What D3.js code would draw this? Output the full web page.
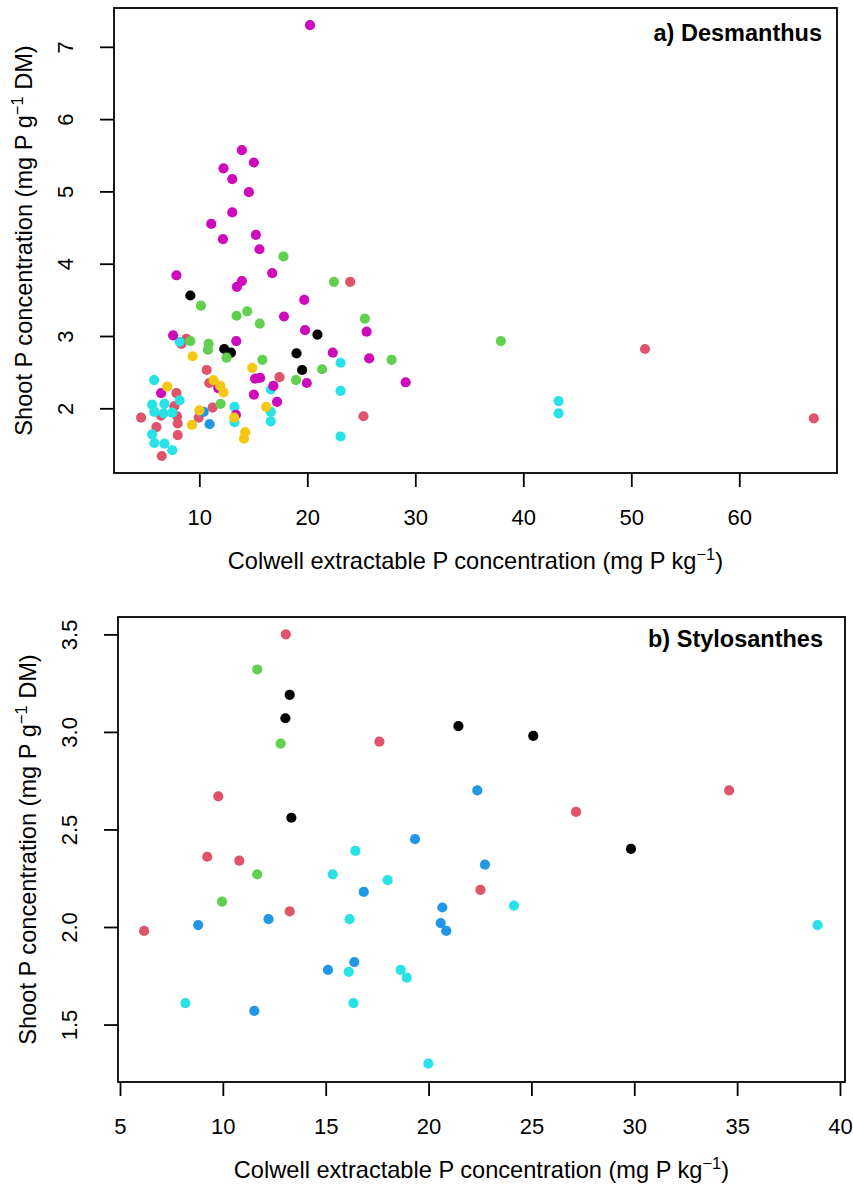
<!DOCTYPE html>
<html>
<head>
<meta charset="utf-8">
<script src="https://cdn.jsdelivr.net/npm/d3@7/dist/d3.min.js"></script>
<style>
  html, body { margin: 0; padding: 0; background: #fff; }
  svg text { font-family: "Liberation Sans", Arial, Helvetica, sans-serif; fill: #000; }
</style>
</head>
<body>
<svg id="chart" width="853" height="1186"></svg>
<script>
// Colour of each soil group (R 4.x default palette order)
const groupColors = ["#000000", "#DF536B", "#61D04F", "#2297E6", "#28E2E5", "#CD0BBC", "#F5C710"];

// a) Desmanthus: [Colwell P (mg/kg), shoot P (mg/g DM)] per group
const desBlack = [[9.17,3.56],[12.31,2.82],[12.93,2.77],[19.0,2.76],[19.52,2.53],[20.94,3.02]];
const desRed = [[23.97,3.75],[51.27,2.82],[25.2,1.89],[66.9,1.86],[17.42,2.43],[8.8,2.96],[8.34,2.89],
  [10.68,2.53],[10.92,2.35],[7.88,2.21],[7.69,2.03],[6.46,1.90],[7.94,1.89],[8.0,1.79],[4.61,1.87],
  [6.03,1.74],[8.0,1.63],[6.52,1.34],[11.23,2.01],[9.94,1.87]];
const desGreen = [[17.79,4.10],[22.47,3.75],[25.33,3.24],[37.92,2.93],[27.8,2.67],[21.37,2.54],[18.96,2.39],
  [10.15,3.42],[13.45,3.28],[14.43,3.34],[15.6,3.17],[9.17,2.93],[10.86,2.89],[10.8,2.81],[12.52,2.70],
  [15.84,2.67],[11.97,2.06]];
const desBlue = [[10.4,1.95],[10.95,1.78]];
const desCyan = [[23.08,2.63],[23.08,2.24],[43.27,2.10],[43.27,1.93],[23.08,1.61],[8.18,2.92],[16.62,2.26],
  [5.82,2.39],[8.18,2.11],[5.63,2.05],[6.77,2.06],[5.84,1.95],[6.70,1.93],[7.5,1.94],[5.63,1.64],
  [5.84,1.52],[6.77,1.51],[7.5,1.42],[13.26,2.02],[13.26,1.81],[16.62,1.95],[16.62,1.82]];
const desMagenta = [[20.25,7.30],[13.94,5.57],[15.05,5.40],[12.24,5.32],[13.05,5.17],[14.59,4.99],[13.05,4.71],
  [11.11,4.55],[12.19,4.34],[15.24,4.40],[15.57,4.20],[16.75,3.87],[7.88,3.84],[13.94,3.76],[13.48,3.68],
  [19.72,3.50],[17.84,3.27],[19.79,3.08],[25.49,3.06],[22.36,2.77],[25.73,2.69],[19.95,2.35],[29.11,2.36],
  [17.2,2.09],[7.57,3.01],[13.42,2.93],[15.17,2.41],[15.63,2.42],[16.86,2.31],[15.05,2.19],[11.75,2.28],
  [6.46,2.21],[13.39,1.91]];
const desYellow = [[9.38,2.72],[14.9,2.56],[11.32,2.39],[11.94,2.31],[12.24,2.22],[7.02,2.30],[10.0,1.97],
  [9.32,1.77],[13.23,1.87],[14.25,1.67],[14.13,1.58],[16.19,2.02]];

// b) Stylosanthes
const styBlack = [[13.25,3.19],[13.04,3.07],[21.45,3.03],[25.09,2.98],[13.33,2.56],[29.84,2.40]];
const styRed = [[13.06,3.50],[17.61,2.95],[9.78,2.67],[27.17,2.59],[34.61,2.70],[9.24,2.36],[10.8,2.34],
  [22.52,2.19],[13.25,2.08],[6.17,1.98]];
const styGreen = [[11.67,3.32],[12.81,2.94],[11.67,2.27],[9.96,2.13]];
const styBlue = [[22.37,2.70],[19.34,2.45],[22.74,2.32],[16.85,2.18],[20.67,2.10],[12.22,2.04],[8.80,2.01],
  [20.59,2.02],[20.86,1.98],[16.39,1.82],[15.11,1.78],[11.53,1.57]];
const styCyan = [[16.44,2.39],[15.34,2.27],[18.01,2.24],[24.15,2.11],[16.16,2.04],[38.91,2.01],[16.12,1.77],
  [18.64,1.78],[18.94,1.74],[8.18,1.61],[16.35,1.61],[19.99,1.30]];

// Tick values
const desXTicks = [10, 20, 30, 40, 50, 60];
const desYTicks = [2, 3, 4, 5, 6, 7];
const styXTicks = [5, 10, 15, 20, 25, 30, 35, 40];
const styYTicks = [1.5, 2.0, 2.5, 3.0, 3.5];

const titles = ["a) Desmanthus", "b) Stylosanthes"];

const panels = [
  {
    title: titles[0],
    box: { l: 114, r: 837, t: 8, b: 473 },
    xDomain: [2.10, 69.05], yDomain: [1.105, 7.537],
    xTicks: desXTicks, yTicks: desYTicks, yFmt: d3.format("d"),
    groups: [desBlack, desRed, desGreen, desBlue, desCyan, desMagenta, desYellow],
    titleX: 822, titleY: 41
  },
  {
    title: titles[1],
    box: { l: 118, r: 845, t: 617, b: 1082 },
    xDomain: [4.903, 40.244], yDomain: [1.2055, 3.589],
    xTicks: styXTicks, yTicks: styYTicks, yFmt: d3.format(".1f"),
    groups: [styBlack, styRed, styGreen, styBlue, styCyan],
    titleX: 823, titleY: 647
  }
];

const svg = d3.select("#chart");
const tickFont = 22;
const labelFont = 23.6;

function supLabel(sel, before, after) {
  sel.append("tspan").text(before);
  sel.append("tspan").attr("font-size", labelFont * 0.7).attr("dy", -9).text("\u22121");
  sel.append("tspan").attr("dy", 9).text(after);
}

panels.forEach(p => {
  const { box } = p;
  const x = d3.scaleLinear().domain(p.xDomain).range([box.l, box.r]);
  const y = d3.scaleLinear().domain(p.yDomain).range([box.b, box.t]);
  const g = svg.append("g");

  // points, group by group
  p.groups.forEach((pts, gi) => {
    g.append("g").selectAll("circle").data(pts).join("circle")
      .attr("cx", d => x(d[0]))
      .attr("cy", d => y(d[1]))
      .attr("r", 5.1)
      .attr("fill", groupColors[gi]);
  });

  // x axis
  const xAxis = d3.axisBottom(x).tickValues(p.xTicks).tickSize(14).tickFormat(d3.format("d"));
  const xg = g.append("g").attr("transform", `translate(0,${box.b})`).call(xAxis);
  xg.select(".domain").remove();
  xg.selectAll(".tick line").attr("stroke", "#000").attr("stroke-width", 1.8);
  xg.selectAll(".tick text").attr("font-size", tickFont).attr("font-family", null).attr("dy", null)
    .attr("y", 52);

  // y axis, labels parallel to the axis
  const yAxis = d3.axisLeft(y).tickValues(p.yTicks).tickSize(14).tickFormat(p.yFmt);
  const yg = g.append("g").attr("transform", `translate(${box.l},0)`).call(yAxis);
  yg.select(".domain").remove();
  yg.selectAll(".tick line").attr("stroke", "#000").attr("stroke-width", 1.8);
  yg.selectAll(".tick text")
    .attr("font-size", tickFont).attr("font-family", null)
    .attr("x", null).attr("dy", null)
    .attr("text-anchor", "middle")
    .attr("transform", "translate(-41,0) rotate(-90)");

  // frame
  g.append("rect")
    .attr("x", box.l).attr("y", box.t)
    .attr("width", box.r - box.l).attr("height", box.b - box.t)
    .attr("fill", "none").attr("stroke", "#000").attr("stroke-width", 1.8);

  // panel title
  g.append("text")
    .attr("x", p.titleX).attr("y", p.titleY)
    .attr("text-anchor", "end").attr("font-weight", "bold").attr("font-size", 23.5)
    .text(p.title);

  // axis titles
  const xl = g.append("text")
    .attr("x", (box.l + box.r) / 2).attr("y", box.b + 96)
    .attr("text-anchor", "middle").attr("font-size", labelFont);
  supLabel(xl, "Colwell extractable P concentration (mg P kg", ")");

  const yl = g.append("text")
    .attr("transform", `translate(${box.l - 82},${(box.t + box.b) / 2}) rotate(-90)`)
    .attr("text-anchor", "middle").attr("font-size", labelFont);
  supLabel(yl, "Shoot P concentration (mg P g", " DM)");
});
</script>
</body>
</html>
